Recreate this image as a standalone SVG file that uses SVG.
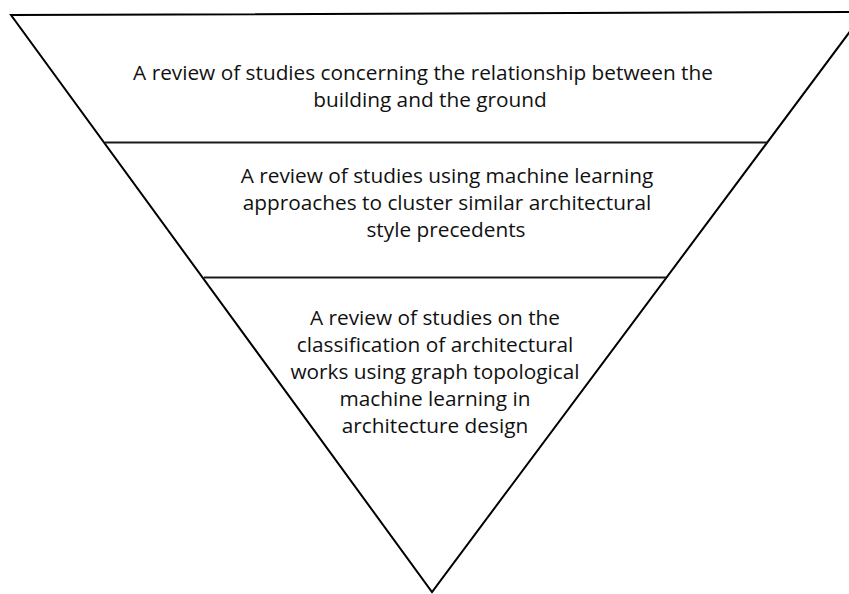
<svg xmlns="http://www.w3.org/2000/svg" width="849" height="594" viewBox="0 0 849 594">
<style>
.edge{stroke:#000;stroke-width:2;fill:none;stroke-linecap:butt}
.div{stroke:#1a1a1a;stroke-width:2;fill:none}
text{font-family:"Open Sans","Liberation Sans",sans-serif;font-size:20.8px;fill:#111;text-anchor:middle}
</style>
<rect width="849" height="594" fill="#fff"/>
<g id="connectors">
<path class="edge" d="M864.5,12 L11,15 L432,592 L864.5,12"/>
<line class="div" x1="105" y1="142.5" x2="767" y2="142.5"/>
<line class="div" x1="204" y1="277.5" x2="666" y2="277.5"/>
</g>
<g id="tier1">
<text x="423" y="80">A review of studies concerning the relationship between the</text>
<text x="430" y="107">building and the ground</text>
</g>
<g id="tier2">
<text x="447" y="183">A review of studies using machine learning</text>
<text x="447" y="210">approaches to cluster similar architectural</text>
<text x="446" y="237">style precedents</text>
</g>
<g id="tier3">
<text x="435" y="325">A review of studies on the</text>
<text x="435" y="352">classification of architectural</text>
<text x="435" y="379">works using graph topological</text>
<text x="435" y="406">machine learning in</text>
<text x="435" y="433">architecture design</text>
</g>
</svg>
